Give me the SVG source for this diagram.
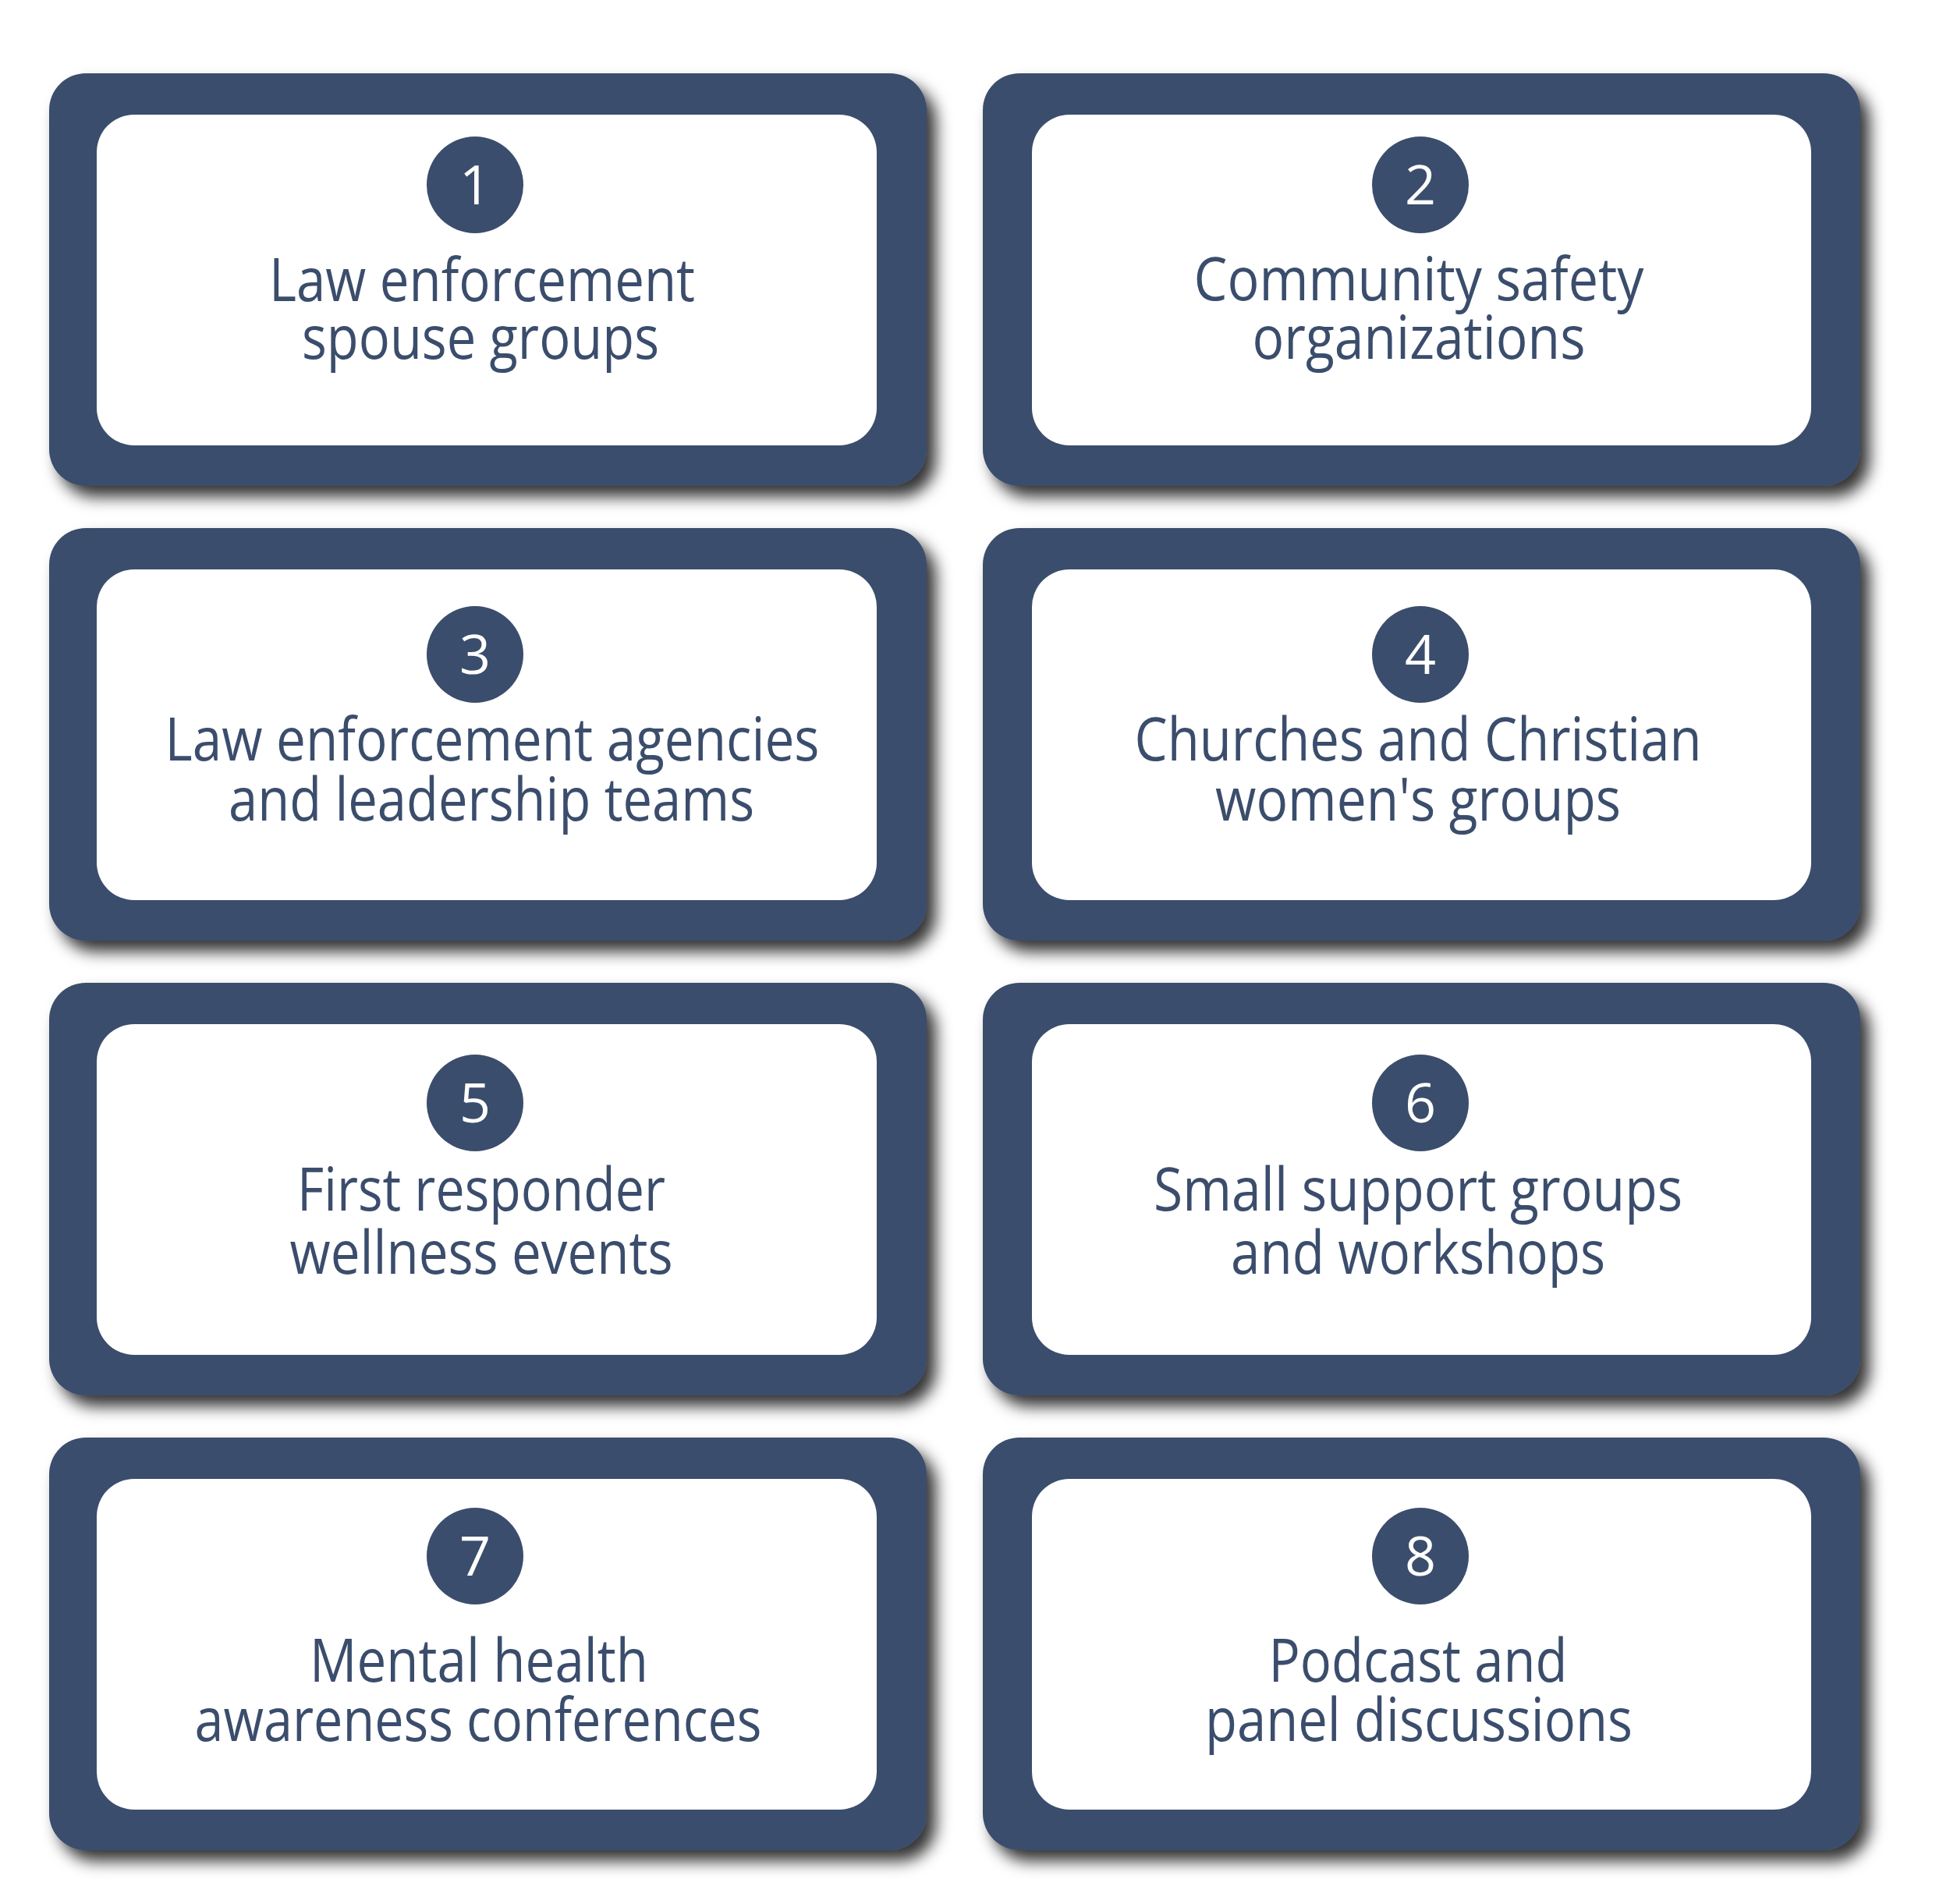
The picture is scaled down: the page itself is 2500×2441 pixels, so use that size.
<svg xmlns="http://www.w3.org/2000/svg" width="2500" height="2441" viewBox="0 0 2500 2441">
<defs>
<filter id="sh" x="-5%" y="-8%" width="115%" height="130%">
<feDropShadow dx="12" dy="14" stdDeviation="10" flood-color="#000" flood-opacity="0.8"/>
</filter>
<style>
.outer{fill:#3B4D6C;filter:url(#sh)}
.inner{fill:#FFFFFF}
.badge{fill:#3B4D6C}
.num{font-family:"Open Sans","Noto Sans",sans-serif;font-size:70px;fill:#FFFFFF;text-anchor:middle}
.lbl{font-family:"Open Sans","Noto Sans",sans-serif;font-size:76px;fill:#3B4D6C;text-anchor:middle}
</style>
</defs>
<rect width="2500" height="2441" fill="#FFFFFF"/>
<g id="node1">
<rect class="outer" x="63" y="94" width="1125" height="529" rx="47"/>
<rect class="inner" x="124" y="147" width="1000" height="424" rx="48"/>
<circle class="badge" cx="609" cy="237" r="62"/>
<text class="num" x="609" y="262">1</text>
<text class="lbl"><tspan x="618" y="386" textLength="546" lengthAdjust="spacingAndGlyphs">Law enforcement</tspan><tspan x="616" y="460" textLength="458" lengthAdjust="spacingAndGlyphs">spouse groups</tspan></text>
</g>
<g id="node2">
<rect class="outer" x="1260" y="94" width="1125" height="529" rx="47"/>
<rect class="inner" x="1323" y="147" width="999" height="424" rx="48"/>
<circle class="badge" cx="1821" cy="237" r="62"/>
<text class="num" x="1821" y="262">2</text>
<text class="lbl"><tspan x="1819" y="385" textLength="577" lengthAdjust="spacingAndGlyphs">Community safety</tspan><tspan x="1819" y="460" textLength="427" lengthAdjust="spacingAndGlyphs">organizations</tspan></text>
</g>
<g id="node3">
<rect class="outer" x="63" y="677" width="1125" height="529" rx="47"/>
<rect class="inner" x="124" y="730" width="1000" height="424" rx="48"/>
<circle class="badge" cx="609" cy="839" r="62"/>
<text class="num" x="609" y="864">3</text>
<text class="lbl"><tspan x="631" y="975" textLength="839" lengthAdjust="spacingAndGlyphs">Law enforcement agencies</tspan><tspan x="630" y="1052" textLength="674" lengthAdjust="spacingAndGlyphs">and leadership teams</tspan></text>
</g>
<g id="node4">
<rect class="outer" x="1260" y="677" width="1125" height="529" rx="47"/>
<rect class="inner" x="1323" y="730" width="999" height="424" rx="48"/>
<circle class="badge" cx="1821" cy="839" r="62"/>
<text class="num" x="1821" y="864">4</text>
<text class="lbl"><tspan x="1818" y="975" textLength="727" lengthAdjust="spacingAndGlyphs">Churches and Christian</tspan><tspan x="1818" y="1052" textLength="520" lengthAdjust="spacingAndGlyphs">women's groups</tspan></text>
</g>
<g id="node5">
<rect class="outer" x="63" y="1260" width="1125" height="529" rx="47"/>
<rect class="inner" x="124" y="1313" width="1000" height="424" rx="48"/>
<circle class="badge" cx="609" cy="1414" r="62"/>
<text class="num" x="609" y="1439">5</text>
<text class="lbl"><tspan x="617" y="1552" textLength="472" lengthAdjust="spacingAndGlyphs">First responder</tspan><tspan x="617" y="1633" textLength="491" lengthAdjust="spacingAndGlyphs">wellness events</tspan></text>
</g>
<g id="node6">
<rect class="outer" x="1260" y="1260" width="1125" height="529" rx="47"/>
<rect class="inner" x="1323" y="1313" width="999" height="424" rx="48"/>
<circle class="badge" cx="1821" cy="1414" r="62"/>
<text class="num" x="1821" y="1439">6</text>
<text class="lbl"><tspan x="1818" y="1552" textLength="678" lengthAdjust="spacingAndGlyphs">Small support groups</tspan><tspan x="1818" y="1633" textLength="480" lengthAdjust="spacingAndGlyphs">and workshops</tspan></text>
</g>
<g id="node7">
<rect class="outer" x="63" y="1843" width="1125" height="529" rx="47"/>
<rect class="inner" x="124" y="1896" width="1000" height="424" rx="48"/>
<circle class="badge" cx="609" cy="1995" r="62"/>
<text class="num" x="609" y="2020">7</text>
<text class="lbl"><tspan x="614" y="2156" textLength="434" lengthAdjust="spacingAndGlyphs">Mental health</tspan><tspan x="613" y="2232" textLength="727" lengthAdjust="spacingAndGlyphs">awareness conferences</tspan></text>
</g>
<g id="node8">
<rect class="outer" x="1260" y="1843" width="1125" height="529" rx="47"/>
<rect class="inner" x="1323" y="1896" width="999" height="424" rx="48"/>
<circle class="badge" cx="1821" cy="1995" r="62"/>
<text class="num" x="1821" y="2020">8</text>
<text class="lbl"><tspan x="1818" y="2156" textLength="383" lengthAdjust="spacingAndGlyphs">Podcast and</tspan><tspan x="1819" y="2232" textLength="548" lengthAdjust="spacingAndGlyphs">panel discussions</tspan></text>
</g>
</svg>
